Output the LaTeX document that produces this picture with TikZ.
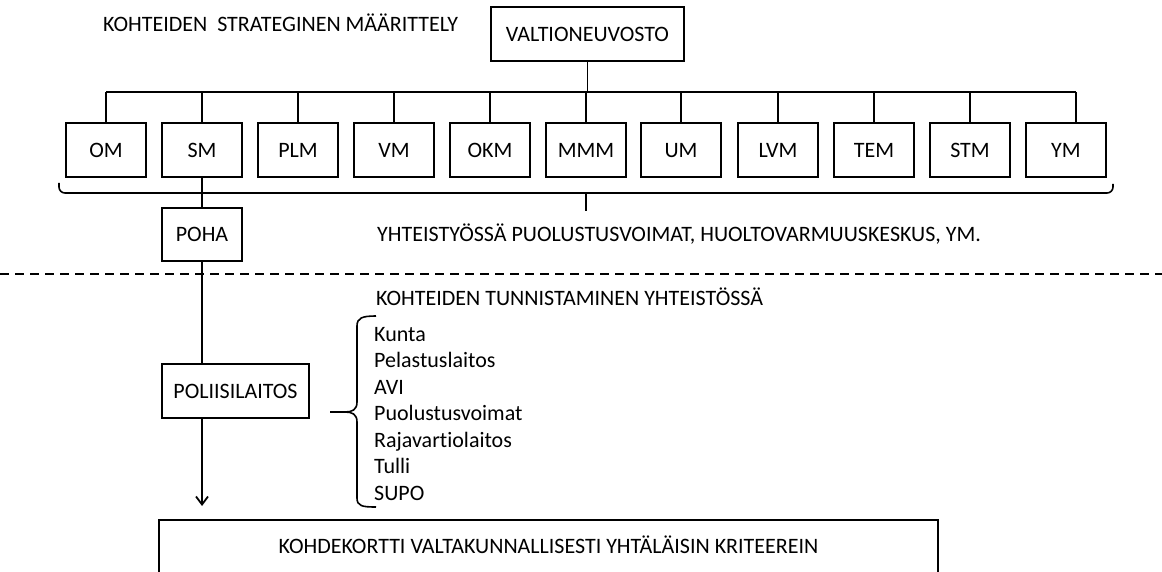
\documentclass[tikz,border=0pt]{standalone}
\usepackage{fontspec}
\setmainfont{Carlito}[RawFeature={-liga}]
\usetikzlibrary{arrows.meta}
\newcommand\diagfont{\fontsize{22}{26}\selectfont}
\begin{document}
\begin{tikzpicture}[x=1pt,y=-1pt,
  box/.style={draw, line width=2pt, inner sep=0pt, text height=14.2pt, text depth=0pt, font=\diagfont},
  minbox/.style={box, minimum width=80pt, minimum height=54pt},
  conn/.style={line width=1.8pt},
  bracestyle/.style={line width=1.6pt, rounded corners=6pt},
  lbl/.style={inner sep=0pt, anchor=base west, font=\diagfont}]
\useasboundingbox (0,0) rectangle (1162,572);
\clip (0,0) rectangle (1162,572);

% titles and texts
\node[lbl] (title) at (103,32) {KOHTEIDEN\ \ STRATEGINEN MÄÄRITTELY};
\node[lbl] (coop) at (377,241) {YHTEISTYÖSSÄ PUOLUSTUSVOIMAT, HUOLTOVARMUUSKESKUS, YM.};
\node[lbl] (ident) at (376,305) {KOHTEIDEN TUNNISTAMINEN YHTEISTÖSSÄ};
\node[lbl] (l1) at (374,341) {Kunta};
\node[lbl] (l2) at (374,367.5) {Pelastuslaitos};
\node[lbl] (l3) at (374,394) {AVI};
\node[lbl] (l4) at (374,420.5) {Puolustusvoimat};
\node[lbl] (l5) at (374,447) {Rajavartiolaitos};
\node[lbl] (l6) at (374,473.5) {Tulli};
\node[lbl] (l7) at (374,500) {SUPO};

% boxes
\node[box, minimum width=193pt, minimum height=54pt] (vn) at (587.5,34) {VALTIONEUVOSTO};
\node[minbox] (om)  at (106,150) {OM};
\node[minbox] (sm)  at (202,150) {SM};
\node[minbox] (plm) at (298,150) {PLM};
\node[minbox] (vm)  at (394,150) {VM};
\node[minbox] (okm) at (490,150) {OKM};
\node[minbox] (mmm) at (586,150) {MMM};
\node[minbox] (um)  at (681,150) {UM};
\node[minbox] (lvm) at (778,150) {LVM};
\node[minbox] (tem) at (874,150) {TEM};
\node[minbox] (stm) at (970,150) {STM};
\node[minbox] (ym)  at (1066,150) {YM};
\node[box, minimum width=80pt, minimum height=53pt] (poha) at (202,234.5) {POHA};
\node[box, minimum width=147pt, minimum height=54pt] (poli) at (235.5,391) {POLIISILAITOS};
\node[box, anchor=north, minimum width=779pt, inner ysep=19pt, text height=14pt, text depth=46pt] (kk) at (548.5,519) {KOHDEKORTTI VALTAKUNNALLISESTI YHTÄLÄISIN KRITEEREIN};

% bus
\coordinate (bus) at (0,92);
\draw[conn] (vn.south) -- (vn.south |- bus);
\foreach \m in {om,sm,plm,vm,okm,mmm,um,lvm,tem,stm}
  \draw[conn] (\m.north) -- (\m.north |- bus);
\draw[conn] ([xshift=10pt]ym.north) -- ([xshift=10pt]ym.north |- bus);
\draw[conn] (om.north |- bus) -- ([xshift=10pt]ym.north |- bus);

% big brace
\draw[bracestyle] (59,183) -- (59,193) -- (1113,193) -- (1113,184);
\draw[line width=1.6pt] (586,193) -- (586,211);

% vertical chain
\coordinate (arrowend) at (202,506);
\draw[conn] (sm.south) -- (poha.north);
\draw[conn] (poha.south) -- (poha.south |- poli.north);
\draw[conn, -{Straight Barb[length=8pt,width=12pt]}] (arrowend |- poli.south) -- (arrowend);

% dashed divider
\draw[line width=1.6pt, dash pattern=on 9pt off 6pt] (0,274) -- (1162,274);

% list brace
\draw[line width=1.6pt] (376,316) .. controls (362,316) and (357,318) .. (357,326) -- (357,402) .. controls (357,410) and (352,412) .. (345,412) -- (330,412);
\draw[line width=1.6pt] (345,412) .. controls (352,412) and (357,414) .. (357,422) -- (357,498) .. controls (357,506) and (362,507) .. (376,507);
\end{tikzpicture}
\end{document}
